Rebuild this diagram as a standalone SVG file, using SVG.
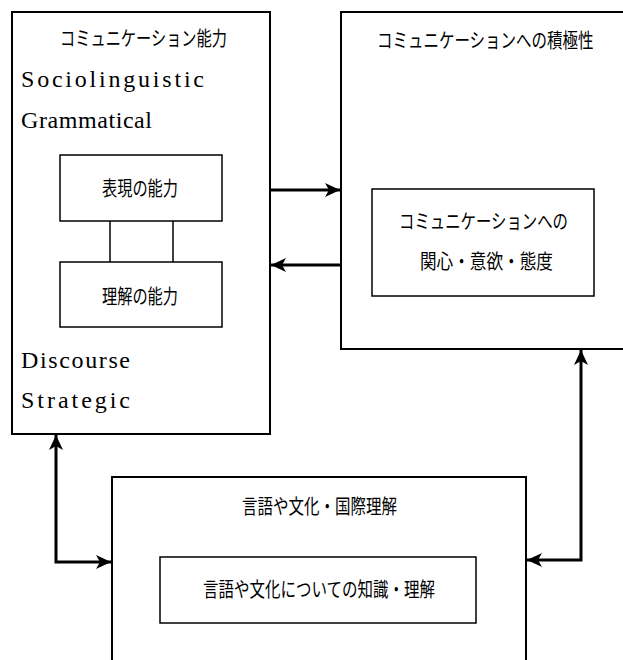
<svg xmlns="http://www.w3.org/2000/svg" width="623" height="660" viewBox="0 0 623 660">
<style>
.box{fill:none;stroke:#000;stroke-width:2}
.inner{fill:none;stroke:#000;stroke-width:1.5}
.jp{font-family:"Noto Sans CJK JP","Noto Sans CJK SC",sans-serif;font-size:20px;fill:#000}
.en{font-family:"Liberation Serif",serif;font-size:24px;fill:#000}
.conn{fill:none;stroke:#000;stroke-width:3}
.thin{fill:none;stroke:#000;stroke-width:1.5}
</style>
<defs>
<marker id="ah" markerUnits="userSpaceOnUse" markerWidth="16" markerHeight="16" viewBox="0 0 16 16" refX="15" refY="8" orient="auto-start-reverse">
<path d="M0,1 L15,8 L0,15 L4,8 Z" fill="#000"/>
</marker>
</defs>
<rect width="623" height="660" fill="#fff"/>
<g id="connectors">
<line class="conn" x1="270" y1="190" x2="340" y2="190" marker-end="url(#ah)"/>
<line class="conn" x1="341" y1="265" x2="271" y2="265" marker-end="url(#ah)"/>
<path class="conn" d="M56,435 L56,562 L111,562" marker-start="url(#ah)" marker-end="url(#ah)"/>
<path class="conn" d="M581,350 L581,560 L527,560" marker-start="url(#ah)" marker-end="url(#ah)"/>
<line class="thin" x1="110" y1="221" x2="110" y2="262"/>
<line class="thin" x1="173" y1="221" x2="173" y2="262"/>
</g>
<g id="competence">
<rect class="box" x="12" y="12" width="258" height="422"/>
<text class="jp" x="60" y="46" textLength="167" lengthAdjust="spacingAndGlyphs">コミュニケーション能力</text>
<text class="en" x="21" y="87" textLength="183" lengthAdjust="spacing">Sociolinguistic</text>
<text class="en" x="21" y="128" textLength="131" lengthAdjust="spacing">Grammatical</text>
<text class="en" x="21" y="368" textLength="109" lengthAdjust="spacing">Discourse</text>
<text class="en" x="21" y="408" textLength="109" lengthAdjust="spacing">Strategic</text>
</g>
<g id="expression">
<rect class="inner" x="60" y="155" width="162" height="66"/>
<text class="jp" x="102" y="196" textLength="76" lengthAdjust="spacingAndGlyphs">表現の能力</text>
</g>
<g id="comprehension">
<rect class="inner" x="60" y="262" width="162" height="65"/>
<text class="jp" x="102" y="304" textLength="76" lengthAdjust="spacingAndGlyphs">理解の能力</text>
</g>
<g id="positiveness">
<path class="box" d="M623,12 H341 V349 H623"/>
<text class="jp" transform="translate(377,48) scale(0.775,1)" x="0" y="0">コミュニケーションへの積極性</text>
</g>
<g id="attitude">
<rect class="inner" x="372" y="189" width="222" height="107"/>
<text class="jp" x="399" y="229" textLength="169" lengthAdjust="spacingAndGlyphs">コミュニケーションへの</text>
<text class="jp" x="420" y="269" textLength="133" lengthAdjust="spacingAndGlyphs">関心・意欲・態度</text>
</g>
<g id="understanding">
<path class="box" d="M112,660 V477 H526 V660"/>
<text class="jp" x="242" y="514" textLength="155" lengthAdjust="spacingAndGlyphs">言語や文化・国際理解</text>
</g>
<g id="knowledge">
<rect class="inner" x="160" y="557" width="316" height="66"/>
<text class="jp" x="203" y="597" textLength="232" lengthAdjust="spacingAndGlyphs">言語や文化についての知識・理解</text>
</g>
</svg>
